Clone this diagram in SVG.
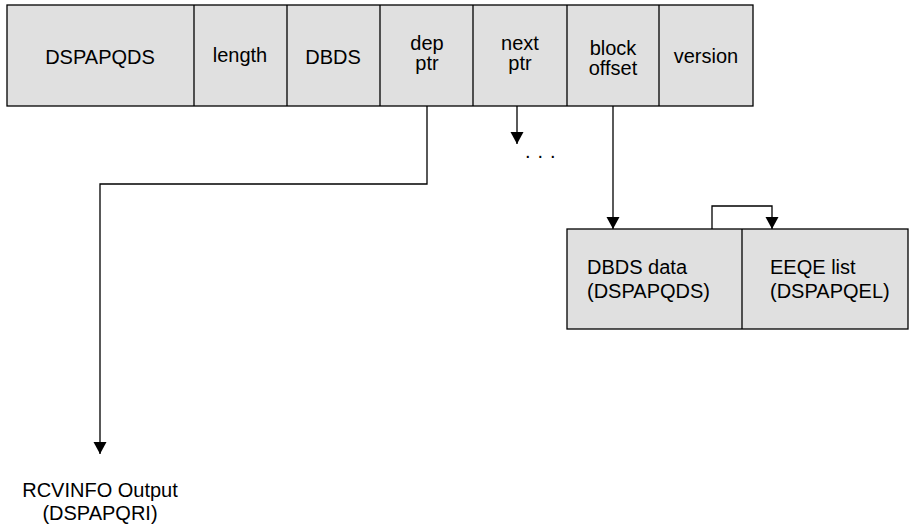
<svg xmlns="http://www.w3.org/2000/svg" width="909" height="529" viewBox="0 0 909 529">
<style>
.box{fill:#e0e0e0;stroke:#000;stroke-width:1.3}
.ln{fill:none;stroke:#000;stroke-width:1.3}
text{font-family:"Liberation Sans",Arial,sans-serif;font-size:20px;fill:#000}
.c{text-anchor:middle}
</style>
<defs>
<marker id="ah" markerWidth="14" markerHeight="14" refX="12" refY="6.5" orient="auto" markerUnits="userSpaceOnUse">
<path d="M0,0 L12,6.5 L0,13 z" fill="#000"/>
</marker>
</defs>
<g id="record">
<rect class="box" x="7" y="5" width="746" height="101"/>
<line class="ln" x1="194" y1="5" x2="194" y2="106"/>
<line class="ln" x1="287" y1="5" x2="287" y2="106"/>
<line class="ln" x1="380" y1="5" x2="380" y2="106"/>
<line class="ln" x1="473" y1="5" x2="473" y2="106"/>
<line class="ln" x1="567" y1="5" x2="567" y2="106"/>
<line class="ln" x1="659" y1="5" x2="659" y2="106"/>
<text class="c" x="100" y="64">DSPAPQDS</text>
<text class="c" x="240" y="62">length</text>
<text class="c" x="333" y="64">DBDS</text>
<text class="c" x="427" y="50">dep</text>
<text class="c" x="427" y="70">ptr</text>
<text class="c" x="520" y="50">next</text>
<text class="c" x="520" y="70">ptr</text>
<text class="c" x="613" y="55">block</text>
<text class="c" x="613" y="75">offset</text>
<text class="c" x="706" y="63">version</text>
</g>
<g id="dbds">
<rect class="box" x="567" y="229" width="341" height="100"/>
<line class="ln" x1="742" y1="229" x2="742" y2="329"/>
<text x="587" y="274">DBDS data</text>
<text x="587" y="298">(DSPAPQDS)</text>
<text x="770" y="274">EEQE list</text>
<text x="770" y="298">(DSPAPQEL)</text>
</g>
<g id="output">
<text class="c" x="100" y="497">RCVINFO Output</text>
<text class="c" x="100" y="520">(DSPAPQRI)</text>
</g>
<g id="dots">
<text x="525" y="158" letter-spacing="7">...</text>
</g>
<g id="connectors">
<path class="ln" d="M427,106 V184 H100 V454" marker-end="url(#ah)"/>
<path class="ln" d="M517,106 V144" marker-end="url(#ah)"/>
<path class="ln" d="M613,106 V229" marker-end="url(#ah)"/>
<path class="ln" d="M712,229 V206 H772 V229" marker-end="url(#ah)"/>
</g>
</svg>
